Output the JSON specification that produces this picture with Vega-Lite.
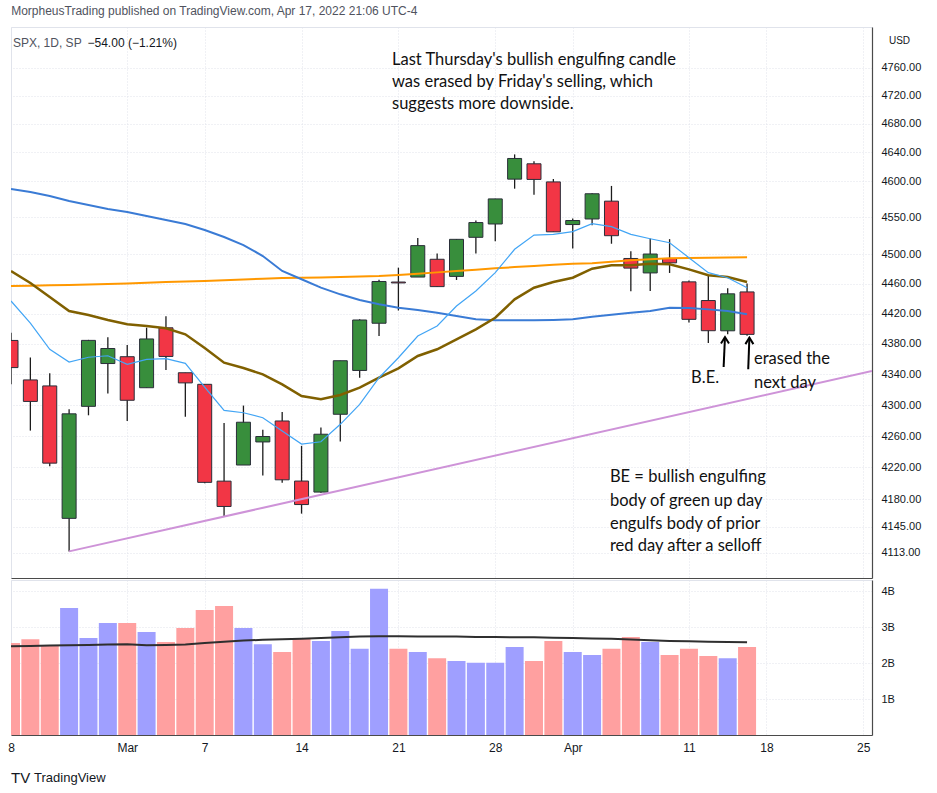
{
  "$schema": "https://vega.github.io/schema/vega-lite/v6.json",
  "background": "white",
  "padding": {"left": 7, "top": 4, "right": 0, "bottom": 0},
  "title": {"text": "MorpheusTrading published on TradingView.com, Apr 17, 2022 21:06 UTC-4", "anchor": "start", "font": "Liberation Sans", "fontSize": 12, "fontWeight": "normal", "color": "#50535e", "offset": 9, "dx": 4},
  "spacing": 0,
  "datasets": {
    "candles": [
      {"i": 0, "d": "Feb 18", "open": 4384.57, "high": 4394.60, "low": 4327.22, "close": 4348.87, "vol": 2.56, "volma": 2.47, "fast": 4437.0, "mid": 4477.3, "ma50": 4589.2, "ma200": 4457.0},
      {"i": 1, "d": "Feb 22", "open": 4332.74, "high": 4362.12, "low": 4267.11, "close": 4304.76, "vol": 2.67, "volma": 2.48, "fast": 4407.6, "mid": 4461.1, "ma50": 4585.1, "ma200": 4457.5},
      {"i": 2, "d": "Feb 23", "open": 4324.93, "high": 4341.51, "low": 4221.51, "close": 4225.50, "vol": 2.49, "volma": 2.49, "fast": 4372.9, "mid": 4442.3, "ma50": 4579.5, "ma200": 4458.0},
      {"i": 3, "d": "Feb 24", "open": 4155.77, "high": 4294.73, "low": 4114.65, "close": 4288.70, "vol": 3.54, "volma": 2.50, "fast": 4356.2, "mid": 4423.6, "ma50": 4572.6, "ma200": 4458.5},
      {"i": 4, "d": "Feb 25", "open": 4298.38, "high": 4385.34, "low": 4286.83, "close": 4384.65, "vol": 2.70, "volma": 2.51, "fast": 4362.4, "mid": 4418.3, "ma50": 4567.1, "ma200": 4459.0},
      {"i": 5, "d": "Feb 28", "open": 4354.17, "high": 4388.84, "low": 4315.12, "close": 4373.94, "vol": 3.12, "volma": 2.52, "fast": 4364.4, "mid": 4411.7, "ma50": 4561.6, "ma200": 4459.7},
      {"i": 6, "d": "Mar 1", "open": 4363.14, "high": 4378.45, "low": 4279.54, "close": 4306.26, "vol": 3.12, "volma": 2.53, "fast": 4353.2, "mid": 4405.9, "ma50": 4557.5, "ma200": 4460.5},
      {"i": 7, "d": "Mar 2", "open": 4322.56, "high": 4401.48, "low": 4322.56, "close": 4386.54, "vol": 2.87, "volma": 2.50, "fast": 4359.7, "mid": 4403.7, "ma50": 4552.0, "ma200": 4461.5},
      {"i": 8, "d": "Mar 3", "open": 4401.31, "high": 4416.78, "low": 4345.56, "close": 4363.49, "vol": 2.59, "volma": 2.51, "fast": 4360.6, "mid": 4400.6, "ma50": 4546.6, "ma200": 4462.3},
      {"i": 9, "d": "Mar 4", "open": 4342.12, "high": 4342.12, "low": 4284.98, "close": 4328.87, "vol": 2.98, "volma": 2.52, "fast": 4354.5, "mid": 4392.7, "ma50": 4541.1, "ma200": 4463.0},
      {"i": 10, "d": "Mar 7", "open": 4327.01, "high": 4327.01, "low": 4199.85, "close": 4201.09, "vol": 3.48, "volma": 2.56, "fast": 4323.5, "mid": 4374.6, "ma50": 4532.9, "ma200": 4463.8},
      {"i": 11, "d": "Mar 8", "open": 4202.66, "high": 4276.94, "low": 4157.87, "close": 4170.70, "vol": 3.59, "volma": 2.60, "fast": 4293.2, "mid": 4355.3, "ma50": 4523.3, "ma200": 4464.8},
      {"i": 12, "d": "Mar 9", "open": 4223.10, "high": 4299.40, "low": 4223.10, "close": 4277.88, "vol": 2.98, "volma": 2.63, "fast": 4290.1, "mid": 4348.3, "ma50": 4512.4, "ma200": 4465.8},
      {"i": 13, "d": "Mar 10", "open": 4252.55, "high": 4268.28, "low": 4209.80, "close": 4259.52, "vol": 2.53, "volma": 2.65, "fast": 4283.7, "mid": 4340.1, "ma50": 4497.5, "ma200": 4466.8},
      {"i": 14, "d": "Mar 11", "open": 4279.50, "high": 4291.01, "low": 4200.49, "close": 4204.31, "vol": 2.31, "volma": 2.67, "fast": 4266.5, "mid": 4327.0, "ma50": 4477.3, "ma200": 4467.8},
      {"i": 15, "d": "Mar 14", "open": 4202.75, "high": 4247.57, "low": 4161.72, "close": 4173.11, "vol": 2.70, "volma": 2.68, "fast": 4249.8, "mid": 4311.8, "ma50": 4466.1, "ma200": 4468.2},
      {"i": 16, "d": "Mar 15", "open": 4188.82, "high": 4271.05, "low": 4187.90, "close": 4262.45, "vol": 2.62, "volma": 2.70, "fast": 4252.8, "mid": 4307.5, "ma50": 4454.8, "ma200": 4468.6},
      {"i": 17, "d": "Mar 16", "open": 4288.14, "high": 4357.86, "low": 4253.0, "close": 4357.86, "vol": 2.90, "volma": 2.72, "fast": 4275.2, "mid": 4313.1, "ma50": 4445.9, "ma200": 4469.1},
      {"i": 18, "d": "Mar 17", "open": 4345.11, "high": 4412.67, "low": 4335.65, "close": 4411.67, "vol": 2.40, "volma": 2.74, "fast": 4301.0, "mid": 4322.6, "ma50": 4438.3, "ma200": 4469.8},
      {"i": 19, "d": "Mar 18", "open": 4407.34, "high": 4465.40, "low": 4390.57, "close": 4463.12, "vol": 4.07, "volma": 2.75, "fast": 4335.6, "mid": 4335.6, "ma50": 4432.5, "ma200": 4470.5},
      {"i": 20, "d": "Mar 21", "open": 4462.40, "high": 4481.75, "low": 4424.30, "close": 4461.18, "vol": 2.40, "volma": 2.75, "fast": 4361.8, "mid": 4347.9, "ma50": 4428.0, "ma200": 4472.0},
      {"i": 21, "d": "Mar 22", "open": 4469.10, "high": 4522.00, "low": 4469.10, "close": 4511.61, "vol": 2.31, "volma": 2.74, "fast": 4390.4, "mid": 4364.1, "ma50": 4424.9, "ma200": 4473.6},
      {"i": 22, "d": "Mar 23", "open": 4493.10, "high": 4501.07, "low": 4455.81, "close": 4456.24, "vol": 2.14, "volma": 2.74, "fast": 4403.7, "mid": 4372.9, "ma50": 4421.4, "ma200": 4475.4},
      {"i": 23, "d": "Mar 24", "open": 4469.98, "high": 4520.58, "low": 4465.17, "close": 4520.16, "vol": 2.06, "volma": 2.74, "fast": 4430.3, "mid": 4386.0, "ma50": 4416.9, "ma200": 4477.3},
      {"i": 24, "d": "Mar 25", "open": 4522.91, "high": 4546.03, "low": 4501.07, "close": 4543.06, "vol": 2.01, "volma": 2.73, "fast": 4450.4, "mid": 4399.3, "ma50": 4412.6, "ma200": 4479.0},
      {"i": 25, "d": "Mar 28", "open": 4541.09, "high": 4575.65, "low": 4517.69, "close": 4575.52, "vol": 2.01, "volma": 2.73, "fast": 4475.0, "mid": 4414.7, "ma50": 4411.3, "ma200": 4480.9},
      {"i": 26, "d": "Mar 29", "open": 4602.86, "high": 4637.30, "low": 4589.66, "close": 4631.60, "vol": 2.45, "volma": 2.72, "fast": 4506.6, "mid": 4439.2, "ma50": 4411.3, "ma200": 4482.5},
      {"i": 27, "d": "Mar 30", "open": 4624.20, "high": 4627.77, "low": 4581.32, "close": 4602.45, "vol": 2.06, "volma": 2.72, "fast": 4526.0, "mid": 4454.8, "ma50": 4411.3, "ma200": 4484.0},
      {"i": 28, "d": "Mar 31", "open": 4599.02, "high": 4603.07, "low": 4530.41, "close": 4530.41, "vol": 2.62, "volma": 2.71, "fast": 4527.0, "mid": 4462.4, "ma50": 4411.7, "ma200": 4485.6},
      {"i": 29, "d": "Apr 1", "open": 4540.32, "high": 4548.70, "low": 4507.57, "close": 4545.86, "vol": 2.31, "volma": 2.70, "fast": 4530.6, "mid": 4468.2, "ma50": 4412.6, "ma200": 4487.1},
      {"i": 30, "d": "Apr 4", "open": 4547.97, "high": 4583.50, "low": 4539.21, "close": 4582.64, "vol": 2.23, "volma": 2.69, "fast": 4541.5, "mid": 4480.4, "ma50": 4416.0, "ma200": 4487.6},
      {"i": 31, "d": "Apr 5", "open": 4572.45, "high": 4593.45, "low": 4514.17, "close": 4525.12, "vol": 2.40, "volma": 2.68, "fast": 4537.4, "mid": 4484.9, "ma50": 4418.7, "ma200": 4489.6},
      {"i": 32, "d": "Apr 6", "open": 4494.17, "high": 4503.94, "low": 4450.04, "close": 4481.15, "vol": 2.73, "volma": 2.66, "fast": 4527.0, "mid": 4484.9, "ma50": 4421.4, "ma200": 4491.7},
      {"i": 33, "d": "Apr 7", "open": 4474.65, "high": 4521.16, "low": 4450.30, "close": 4500.21, "vol": 2.59, "volma": 2.64, "fast": 4521.0, "mid": 4487.1, "ma50": 4423.6, "ma200": 4493.0},
      {"i": 34, "d": "Apr 8", "open": 4494.15, "high": 4520.41, "low": 4474.60, "close": 4488.28, "vol": 2.23, "volma": 2.62, "fast": 4515.6, "mid": 4486.3, "ma50": 4428.0, "ma200": 4494.4},
      {"i": 35, "d": "Apr 11", "open": 4462.64, "high": 4464.35, "low": 4408.38, "close": 4412.53, "vol": 2.40, "volma": 2.61, "fast": 4495.2, "mid": 4479.5, "ma50": 4427.6, "ma200": 4494.8},
      {"i": 36, "d": "Apr 12", "open": 4437.59, "high": 4471.00, "low": 4381.34, "close": 4397.45, "vol": 2.20, "volma": 2.60, "fast": 4475.0, "mid": 4471.5, "ma50": 4425.8, "ma200": 4495.2},
      {"i": 37, "d": "Apr 13", "open": 4397.32, "high": 4453.92, "low": 4392.70, "close": 4446.59, "vol": 2.14, "volma": 2.59, "fast": 4468.2, "mid": 4469.1, "ma50": 4423.6, "ma200": 4495.5},
      {"i": 38, "d": "Apr 14", "open": 4449.12, "high": 4460.46, "low": 4390.77, "close": 4392.59, "vol": 2.45, "volma": 2.58, "fast": 4454.8, "mid": 4462.4, "ma50": 4419.2, "ma200": 4495.7}
    ],
    "trend": [
      {"i": 3, "p": 4114.65},
      {"i": 44.45, "p": 4344.4}
    ],
    "notes": [
      {"i": 19.67, "p": 4771.1, "t": "Last Thursday's bullish engulfing candle"},
      {"i": 19.67, "p": 4739.5, "t": "was erased by Friday's selling, which"},
      {"i": 19.67, "p": 4708.2, "t": "suggests more downside."},
      {"i": 30.92, "p": 4207.8, "t": "BE = bullish engulfing"},
      {"i": 30.92, "p": 4177.5, "t": "body of green up day"},
      {"i": 30.92, "p": 4148.7, "t": "engulfs body of prior"},
      {"i": 30.92, "p": 4121.3, "t": "red day after a selloff"},
      {"i": 35.11, "p": 4335.2, "t": "B.E."},
      {"i": 38.36, "p": 4360.1, "t": "erased the"},
      {"i": 38.36, "p": 4328.7, "t": "next day"}
    ],
    "legend": [
      {"i": 0.1, "p": 4795.6, "t": "SPX, 1D, SP", "k": "name"},
      {"i": 3.95, "p": 4795.6, "t": "−54.00 (−1.21%)", "k": "chg"}
    ],
    "arrows": [
      {"i": 36.79, "p": 4349.6, "i2": 36.86, "p2": 4389.1},
      {"i": 38.06, "p": 4346.6, "i2": 38.12, "p2": 4388.2}
    ],
    "logo": [
      {"i": 0.0, "v": -1.2, "t": "TV", "k": "logo"},
      {"i": 1.19, "v": -1.2, "t": "TradingView", "k": "word"}
    ]
  },
  "vconcat": [
    {
      "width": 861,
      "height": 551,
      "layer": [
        {
          "data": {"name": "candles"},
          "mark": {"type": "rule", "clip": true, "color": "#1c1c1c", "strokeWidth": 1.3},
          "encoding": {
            "x": {"field": "i", "type": "quantitative", "scale": {"domain": [0, 44.45], "padding": 0},
                  "axis": {"values": [0, 6, 10, 15, 20, 25, 29, 35, 39, 44], "labels": false, "ticks": false, "grid": true, "domain": true, "title": null}},
            "y": {"field": "low", "type": "quantitative", "scale": {"type": "log", "domain": [4081.8, 4818.7]},
                  "axis": {"orient": "right", "values": [4113, 4145, 4180, 4220, 4260, 4300, 4340, 4380, 4420, 4460, 4500, 4550, 4600, 4640, 4680, 4720, 4760], "format": ".2f", "labelPadding": 9, "grid": true, "domain": true, "title": "USD", "titleAngle": 0, "titleX": 27, "titleY": 13, "titleAlign": "center", "titleBaseline": "middle", "titleFont": "Liberation Sans", "titleFontSize": 10, "titleFontWeight": "normal", "titleColor": "#131722"}},
            "y2": {"field": "high"}
          }
        },
        {
          "data": {"name": "candles"},
          "mark": {"type": "bar", "clip": true, "width": 14, "stroke": "#2a2e39", "strokeWidth": 1},
          "encoding": {
            "x": {"field": "i", "type": "quantitative", "scale": {"domain": [0, 44.45], "padding": 0}},
            "y": {"field": "open", "type": "quantitative", "scale": {"type": "log", "domain": [4081.8, 4818.7]}},
            "y2": {"field": "close"},
            "color": {"condition": {"test": "datum.close >= datum.open", "value": "#388e3c"}, "value": "#f23645"}
          }
        },
        {
          "data": {"name": "candles"},
          "mark": {"type": "line", "clip": true, "color": "#ff9800", "strokeWidth": 2},
          "encoding": {
            "x": {"field": "i", "type": "quantitative", "scale": {"domain": [0, 44.45], "padding": 0}},
            "y": {"field": "ma200", "type": "quantitative", "scale": {"type": "log", "domain": [4081.8, 4818.7]}}
          }
        },
        {
          "data": {"name": "candles"},
          "mark": {"type": "line", "clip": true, "color": "#3a7bd5", "strokeWidth": 2},
          "encoding": {
            "x": {"field": "i", "type": "quantitative", "scale": {"domain": [0, 44.45], "padding": 0}},
            "y": {"field": "ma50", "type": "quantitative", "scale": {"type": "log", "domain": [4081.8, 4818.7]}}
          }
        },
        {
          "data": {"name": "candles"},
          "mark": {"type": "line", "clip": true, "color": "#806000", "strokeWidth": 2.5},
          "encoding": {
            "x": {"field": "i", "type": "quantitative", "scale": {"domain": [0, 44.45], "padding": 0}},
            "y": {"field": "mid", "type": "quantitative", "scale": {"type": "log", "domain": [4081.8, 4818.7]}}
          }
        },
        {
          "data": {"name": "candles"},
          "mark": {"type": "line", "clip": true, "color": "#42a5f5", "strokeWidth": 1.2},
          "encoding": {
            "x": {"field": "i", "type": "quantitative", "scale": {"domain": [0, 44.45], "padding": 0}},
            "y": {"field": "fast", "type": "quantitative", "scale": {"type": "log", "domain": [4081.8, 4818.7]}}
          }
        },
        {
          "data": {"name": "trend"},
          "mark": {"type": "line", "clip": true, "color": "#ce93d8", "strokeWidth": 2},
          "encoding": {
            "x": {"field": "i", "type": "quantitative", "scale": {"domain": [0, 44.45], "padding": 0}},
            "y": {"field": "p", "type": "quantitative", "scale": {"type": "log", "domain": [4081.8, 4818.7]}}
          }
        },
        {
          "data": {"name": "arrows"},
          "mark": {"type": "rule", "color": "#000000", "strokeWidth": 2},
          "encoding": {
            "x": {"field": "i", "type": "quantitative", "scale": {"domain": [0, 44.45], "padding": 0}},
            "y": {"field": "p", "type": "quantitative", "scale": {"type": "log", "domain": [4081.8, 4818.7]}},
            "x2": {"field": "i2"},
            "y2": {"field": "p2"}
          }
        },
        {
          "data": {"name": "arrows"},
          "mark": {"type": "point", "shape": "M-1,1.6L0,0L1,1.6", "filled": false, "stroke": "#000000", "strokeWidth": 2, "size": 64, "opacity": 1},
          "encoding": {
            "x": {"field": "i2", "type": "quantitative", "scale": {"domain": [0, 44.45], "padding": 0}},
            "y": {"field": "p2", "type": "quantitative", "scale": {"type": "log", "domain": [4081.8, 4818.7]}}
          }
        },
        {
          "data": {"name": "notes"},
          "mark": {"type": "text", "align": "left", "baseline": "middle", "font": "Lato", "fontSize": 16.5, "color": "#111111"},
          "encoding": {
            "x": {"field": "i", "type": "quantitative", "scale": {"domain": [0, 44.45], "padding": 0}},
            "y": {"field": "p", "type": "quantitative", "scale": {"type": "log", "domain": [4081.8, 4818.7]}},
            "text": {"field": "t"}
          }
        },
        {
          "data": {"name": "legend"},
          "mark": {"type": "text", "align": "left", "baseline": "middle", "font": "Liberation Sans", "fontSize": 12},
          "encoding": {
            "x": {"field": "i", "type": "quantitative", "scale": {"domain": [0, 44.45], "padding": 0}},
            "y": {"field": "p", "type": "quantitative", "scale": {"type": "log", "domain": [4081.8, 4818.7]}},
            "text": {"field": "t"},
            "color": {"condition": {"test": "datum.k == 'name'", "value": "#50535e"}, "value": "#131722"}
          }
        }
      ]
    },
    {
      "width": 861,
      "height": 155,
      "layer": [
        {
          "data": {"name": "candles"},
          "mark": {"type": "bar", "clip": true, "width": 18},
          "encoding": {
            "x": {"field": "i", "type": "quantitative", "scale": {"domain": [0, 44.45], "padding": 0},
                  "axis": {"values": [0, 6, 10, 15, 20, 25, 29, 35, 39, 44], "labelExpr": "datum.value == 0 ? '8' : datum.value == 6 ? 'Mar' : datum.value == 10 ? '7' : datum.value == 15 ? '14' : datum.value == 20 ? '21' : datum.value == 25 ? '28' : datum.value == 29 ? 'Apr' : datum.value == 35 ? '11' : datum.value == 39 ? '18' : '25'", "labelFontSize": 12, "labelPadding": 7, "labelFlush": false, "labelBound": false, "labelOverlap": false, "ticks": false, "grid": true, "domain": true, "title": null}},
            "y": {"field": "vol", "type": "quantitative", "scale": {"domain": [0, 4.317]},
                  "axis": {"orient": "right", "values": [1, 2, 3, 4], "labelExpr": "datum.value + 'B'", "labelPadding": 9, "grid": true, "domain": true, "title": null}},
            "color": {"condition": {"test": "datum.close >= datum.open", "value": "#9f9fff"}, "value": "#ffa0a0"}
          }
        },
        {
          "data": {"name": "candles"},
          "mark": {"type": "line", "clip": true, "color": "#2f2f2f", "strokeWidth": 2},
          "encoding": {
            "x": {"field": "i", "type": "quantitative", "scale": {"domain": [0, 44.45], "padding": 0}},
            "y": {"field": "volma", "type": "quantitative", "scale": {"domain": [0, 4.317]}}
          }
        },
        {
          "data": {"name": "logo"},
          "mark": {"type": "text", "align": "left", "baseline": "middle", "font": "Liberation Sans", "color": "#131722"},
          "encoding": {
            "x": {"field": "i", "type": "quantitative", "scale": {"domain": [0, 44.45], "padding": 0}},
            "y": {"field": "v", "type": "quantitative", "scale": {"domain": [0, 4.317]}},
            "text": {"field": "t"},
            "size": {"condition": {"test": "datum.k == 'logo'", "value": 15}, "value": 13},
            "fontWeight": {"condition": {"test": "datum.k == 'logo'", "value": "bold"}, "value": "normal"}
          }
        }
      ]
    }
  ],
  "config": {
    "view": {"stroke": "#e0e3eb", "strokeWidth": 1},
    "axis": {"labelFont": "Liberation Sans", "labelFontSize": 11, "labelColor": "#131722", "gridColor": "#e0e3eb", "gridDash": [1, 2], "gridWidth": 1, "domainColor": "#4a4a4a", "domainWidth": 1.2, "ticks": false}
  }
}
